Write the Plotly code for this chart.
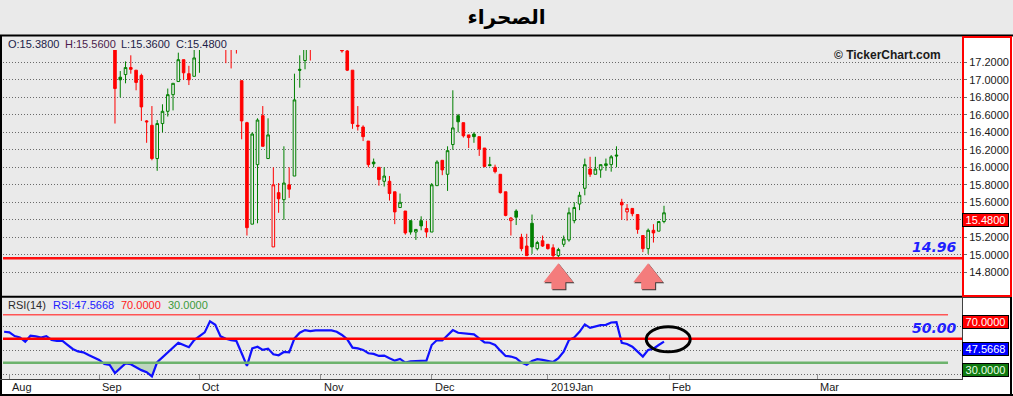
import plotly.graph_objects as go

# ---------------- data ----------------
opens = [17.86, 17.90, 17.88, 17.82, 17.80, 17.72, 17.86, 17.84, 17.80, 17.86,
         17.78, 17.76, 17.76, 17.68, 17.60, 17.56, 17.54, 17.48, 17.44, 17.40,
         17.38, 17.40, 17.03, 17.06, 17.14, 17.11, 17.05, 16.53, 16.48, 16.10,
         16.50, 16.64, 16.83, 16.98, 17.23, 17.07, 17.04, 17.40, 17.55, 17.66,
         17.90, 17.82, 17.55, 17.50, 17.45, 16.99, 16.51, 15.35, 16.03, 16.59,
         16.10, 15.09, 15.71, 15.63, 15.80, 15.90, 17.12, 17.22, 17.45, 17.36,
         17.42, 17.40, 17.44, 17.42, 17.45, 17.33, 17.11, 16.48, 16.46, 16.30,
         16.06, 16.00, 15.84, 15.84, 15.72, 15.54, 15.50, 15.39, 15.26, 15.39,
         15.30, 15.26, 15.79, 16.08, 15.92, 16.26, 16.59, 16.51, 16.37, 16.38,
         16.35, 16.22, 16.03, 16.00, 15.92, 15.72, 15.39, 15.50, 15.20, 15.10,
         15.36, 15.07, 15.16, 15.12, 15.08, 14.99, 15.12, 15.17, 15.39, 15.58,
         15.76, 15.98, 15.92, 15.97, 16.02, 16.03, 16.14, 15.60, 15.49, 15.53,
         15.46, 15.22, 15.07, 15.28, 15.27, 15.38]
highs = [17.94, 17.96, 17.92, 17.88, 17.84, 17.90, 17.92, 17.88, 17.90, 17.88,
         17.82, 17.82, 17.78, 17.70, 17.64, 17.60, 17.56, 17.52, 17.48, 17.44,
         17.42, 17.42, 17.10, 17.21, 17.28, 17.11, 17.07, 16.54, 16.70, 16.54,
         16.72, 16.90, 16.96, 17.31, 17.23, 17.16, 17.38, 17.60, 17.70, 17.95,
         17.96, 17.84, 17.58, 17.54, 17.50, 16.99, 16.52, 16.40, 16.56, 16.70,
         16.56, 16.00, 15.82, 16.24, 16.00, 17.07, 17.28, 17.40, 17.50, 17.46,
         17.48, 17.47, 17.50, 17.45, 17.48, 17.35, 17.11, 16.70, 16.48, 16.30,
         16.10, 16.00, 16.00, 15.90, 15.72, 15.70, 15.50, 15.39, 15.29, 15.44,
         15.39, 15.82, 16.08, 16.08, 16.24, 16.88, 16.61, 16.51, 16.37, 16.40,
         16.35, 16.22, 16.12, 16.03, 15.92, 15.72, 15.43, 15.52, 15.24, 15.24,
         15.46, 15.16, 15.22, 15.12, 15.12, 15.08, 15.22, 15.54, 15.60, 15.72,
         16.10, 16.12, 16.12, 16.03, 16.10, 16.14, 16.24, 15.64, 15.58, 15.53,
         15.46, 15.22, 15.30, 15.35, 15.38, 15.56]
lows = [17.80, 17.84, 17.80, 17.76, 17.70, 17.72, 17.80, 17.78, 17.78, 17.76,
        17.72, 17.72, 17.66, 17.58, 17.54, 17.50, 17.46, 17.42, 17.38, 17.36,
        17.36, 16.50, 16.80, 16.96, 17.07, 16.88, 16.53, 16.28, 16.08, 15.96,
        16.40, 16.58, 16.65, 16.98, 17.00, 16.94, 17.04, 17.08, 17.50, 17.64,
        17.78, 17.50, 17.19, 17.13, 17.30, 16.32, 15.22, 15.35, 15.36, 16.24,
        16.10, 15.09, 15.48, 15.40, 15.65, 15.90, 16.91, 17.12, 17.22, 17.35,
        17.36, 17.36, 17.38, 17.36, 17.31, 17.10, 16.44, 16.42, 16.30, 16.00,
        16.00, 15.79, 15.78, 15.62, 15.35, 15.54, 15.23, 15.23, 15.17, 15.28,
        15.20, 15.26, 15.79, 15.91, 15.73, 16.20, 16.40, 16.34, 16.22, 16.28,
        16.13, 16.00, 16.01, 15.93, 15.70, 15.44, 15.22, 15.34, 15.04, 14.99,
        15.01, 15.05, 15.09, 15.06, 14.97, 14.97, 15.09, 15.15, 15.36, 15.51,
        15.68, 15.89, 15.92, 15.88, 15.96, 15.95, 16.00, 15.40, 15.39, 15.44,
        15.24, 15.03, 15.01, 15.14, 15.27, 15.36]
closes = [17.90, 17.88, 17.82, 17.80, 17.72, 17.86, 17.84, 17.80, 17.86, 17.78,
          17.76, 17.76, 17.68, 17.60, 17.56, 17.54, 17.48, 17.44, 17.40, 17.38,
          17.37, 16.90, 17.00, 17.14, 17.12, 16.97, 16.69, 16.52, 16.10, 16.50,
          16.64, 16.83, 16.96, 17.23, 17.08, 17.00, 17.25, 17.55, 17.66, 17.90,
          17.82, 17.55, 17.50, 17.45, 17.40, 16.53, 15.31, 16.38, 16.54, 16.24,
          16.37, 15.80, 15.64, 15.82, 15.75, 16.77, 17.11, 17.36, 17.35, 17.42,
          17.40, 17.44, 17.42, 17.38, 17.33, 17.11, 16.50, 16.47, 16.35, 16.03,
          16.04, 15.86, 15.90, 15.70, 15.49, 15.60, 15.25, 15.26, 15.29, 15.33,
          15.26, 15.80, 16.06, 15.97, 16.19, 16.45, 16.52, 16.36, 16.34, 16.35,
          16.21, 16.01, 16.02, 15.95, 15.71, 15.45, 15.42, 15.43, 15.07, 14.99,
          15.09, 15.14, 15.10, 15.07, 14.99, 15.06, 15.18, 15.48, 15.54, 15.68,
          16.03, 15.92, 15.98, 16.03, 16.04, 16.12, 16.13, 15.57, 15.53, 15.47,
          15.29, 15.07, 15.28, 15.25, 15.38, 15.48]
rsi = [55.8, 55.3, 52.2, 51.1, 47.5, 52.5, 52.0, 50.9, 52.2, 49.0,
       48.2, 48.4, 45.0, 41.5, 39.5, 38.7, 36.5, 34.2, 32.4, 29.0,
       28.2, 21.5, 25.2, 29.4, 28.8, 26.0, 23.9, 22.2, 18.7, 30.5,
       34.5, 39.3, 42.5, 46.7, 44.8, 43.0, 48.9, 52.5, 55.3, 64.5,
       61.6, 52.0, 50.0, 48.9, 48.1, 37.9, 27.4, 42.0, 43.4, 40.7,
       41.8, 37.1, 36.3, 39.0, 38.7, 50.3, 55.0, 57.2, 56.4, 56.9,
       56.9, 56.9, 56.9, 55.8, 53.1, 49.5, 42.6, 42.0, 40.7, 37.9,
       37.4, 35.7, 36.0, 33.8, 31.8, 33.2, 30.2, 31.3, 31.6, 32.1,
       31.8, 44.8, 48.9, 48.6, 53.1, 57.2, 55.0, 54.4, 54.2, 53.6,
       50.3, 47.0, 46.7, 44.8, 40.1, 35.7, 35.2, 33.8, 30.2, 28.3,
       31.6, 33.0, 32.4, 31.8, 30.7, 33.8, 39.3, 48.9, 51.1, 55.8,
       61.9, 59.1, 60.5, 61.3, 61.6, 63.5, 63.8, 46.7, 45.6, 43.4,
       39.3, 35.2, 40.7, 41.8, 44.8, 47.5668]
tick_pos = [1, 18, 37, 60, 81, 103, 126, 154]
tick_text = ["Aug", "Sep", "Oct", "Nov", "Dec", "2019Jan", "Feb", "Mar"]
price_ticks = [14.8, 15.0, 15.2, 15.4, 15.6, 15.8, 16.0, 16.2, 16.4, 16.6, 16.8, 17.0, 17.2]
rsi_grid = [20, 40, 60]
support_level = 14.96
rsi_mid, rsi_upper, rsi_lower = 50.0, 70.0, 30.0
arrow_at = [105, 122]
ellipse_at = (125.8, 49.5)
title_text = "الصحراء"

# ---------------- layout geometry ----------------
W, H = 1013, 396
ML, MR, MT, MB = 3, 51, 36, 17
PW, PH = W - ML - MR, H - MT - MB


def fx(px):
    return (px - ML) / PW


def fy(py):
    return (H - MB - py) / PH


X_RANGE = [-0.21, 181.45]
PRICE_RANGE = [14.529, 17.3406]
RSI_RANGE = [16.53, 84.3]
BG = "#eaeaea"
GREEN = "#008000"
RED = "#ff0000"
FONT = "Liberation Sans"
GRID_DASH = "1px,2px"

fig = go.Figure()

# candles: colour by close vs previous close, hollow when close >= open
groups = {}
for i in range(len(closes)):
    prev = closes[i - 1] if i > 0 else opens[i]
    key = (closes[i] >= prev, closes[i] >= opens[i])
    groups.setdefault(key, []).append(i)

for (up, hollow), ids in groups.items():
    col = GREEN if up else RED
    style = dict(line=dict(color=col, width=1), fillcolor=BG if hollow else col)
    fig.add_trace(go.Candlestick(
        x=ids,
        open=[opens[i] for i in ids], high=[highs[i] for i in ids],
        low=[lows[i] for i in ids], close=[closes[i] for i in ids],
        increasing=style, decreasing=style, whiskerwidth=0,
        xaxis="x", yaxis="y", hoverinfo="skip", showlegend=False))

# RSI shading below the lower level
xs = list(range(len(rsi)))
fig.add_trace(go.Scatter(x=xs, y=[rsi_lower] * len(rsi), mode="lines",
                         line=dict(width=0), xaxis="x", yaxis="y2",
                         hoverinfo="skip", showlegend=False))
fig.add_trace(go.Scatter(x=xs, y=[min(v, rsi_lower) for v in rsi], mode="lines",
                         line=dict(width=0), fill="tonexty",
                         fillcolor="rgba(110,175,110,0.35)", xaxis="x", yaxis="y2",
                         hoverinfo="skip", showlegend=False))
fig.add_trace(go.Scatter(x=xs, y=rsi, mode="lines",
                         line=dict(color="#1010ff", width=2.2), xaxis="x", yaxis="y2",
                         hoverinfo="skip", showlegend=False))

shapes = []
# backgrounds outside plot areas
shapes.append(dict(type="rect", xref="paper", yref="paper", x0=fx(962), x1=fx(W),
                   y0=fy(H), y1=fy(36), fillcolor="white", line=dict(width=0), layer="below"))
shapes.append(dict(type="rect", xref="paper", yref="paper", x0=fx(0), x1=fx(962),
                   y0=fy(H), y1=fy(379), fillcolor="white", line=dict(width=0), layer="below"))
# level lines
shapes.append(dict(type="line", xref="x domain", yref="y", x0=0, x1=1,
                   y0=support_level, y1=support_level, line=dict(color="#ff1010", width=2.6)))
shapes.append(dict(type="line", xref="x", yref="y2", x0=X_RANGE[0], x1=178.8,
                   y0=rsi_upper, y1=rsi_upper, line=dict(color="#ff5555", width=1.5)))
shapes.append(dict(type="line", xref="x", yref="y2", x0=X_RANGE[0], x1=178.8,
                   y0=rsi_lower, y1=rsi_lower, line=dict(color="#6db36d", width=2.5)))
shapes.append(dict(type="line", xref="x domain", yref="y2", x0=0, x1=1,
                   y0=rsi_mid, y1=rsi_mid, line=dict(color="#ff0000", width=2.5)))

# arrows below support level
arrow_pts = [(0, -5), (15, -24), (7, -24), (7, -31), (-7, -31), (-7, -24), (-15, -24)]


def path_of(pts, dx=0, dy=0):
    return "M " + " L ".join(f"{x + dx} {y + dy}" for x, y in pts) + " Z"


for a in arrow_at:
    shapes.append(dict(type="path", xref="x", yref="y", xsizemode="pixel", ysizemode="pixel",
                       xanchor=a, yanchor=support_level, path=path_of(arrow_pts, 1, -1),
                       fillcolor="#3a3a3a", line=dict(width=0)))
    shapes.append(dict(type="path", xref="x", yref="y", xsizemode="pixel", ysizemode="pixel",
                       xanchor=a, yanchor=support_level, path=path_of(arrow_pts),
                       fillcolor="#f47c7c", line=dict(width=0)))

# ellipse on RSI
shapes.append(dict(type="circle", xref="x", yref="y2", xsizemode="pixel", ysizemode="pixel",
                   xanchor=ellipse_at[0], yanchor=ellipse_at[1], x0=-22, x1=22, y0=-12.5, y1=12.5,
                   line=dict(color="black", width=3)))


# frame lines
def pline(x0, y0, x1, y1, color="black", width=2):
    shapes.append(dict(type="line", xref="paper", yref="paper", x0=fx(x0), x1=fx(x1),
                       y0=fy(y0), y1=fy(y1), line=dict(color=color, width=width)))


pline(0, 35.5, W, 35.5)
pline(1, 35, 1, H)
pline(0, 296.8, 1011, 296.8)
pline(0, 379.5, 962, 379.5, "#404040", 1)
pline(962.5, 297, 962.5, 380, "#404040", 1)
pline(1011, 296, 1011, H)
pline(0, 395, W, 395)
shapes.append(dict(type="rect", xref="paper", yref="paper", x0=fx(963), x1=fx(1011),
                   y0=fy(296), y1=fy(37), line=dict(color="#ff0000", width=2)))

ann = []


def text_at(px, py, txt, color="#1a1a1a", size=11, anchor="left", **kw):
    ann.append(dict(xref="paper", yref="paper", x=fx(px), y=fy(py), text=txt,
                    showarrow=False, xanchor=anchor, yanchor="middle",
                    font=dict(family=FONT, size=size, color=color, **kw)))


# OHLC header
last = len(closes) - 1
text_at(6, 43.7, f"O:{opens[last]:.4f}", "#1c1c48")
text_at(63, 43.7, f"H:{highs[last]:.4f}", "#4c1c4c")
text_at(119, 43.7, f"L:{lows[last]:.4f}", "#1c1c48")
text_at(174, 43.7, f"C:{closes[last]:.4f}", "#1c1c48")
# RSI header
text_at(6, 305, "RSI(14)", "#2a2a2a")
text_at(51, 305, f"RSI:{rsi[-1]:.4f}", "#2020ff")
text_at(119, 305, f"{rsi_upper:.4f}", "#ff2020")
text_at(166, 305, f"{rsi_lower:.4f}", "#3a9a3a")
# watermark
text_at(943, 55, "© TickerChart.com", "#1a1a1a", 12, "right", weight="bold")

# level labels
for val, yref in ((support_level, "y"), (rsi_mid, "y2")):
    ann.append(dict(xref="paper", yref=yref, x=fx(959), y=val, text=f"{val:.2f}",
                    showarrow=False, xanchor="right", yanchor="bottom", yshift=1,
                    font=dict(family="DejaVu Sans", size=14, color="#1f1fff",
                              weight="bold", style="italic")))

# value boxes on right axis
for val, yref, bg, fg in ((closes[last], "y", "#ff0000", "white"),
                          (rsi_upper, "y2", "#ff0000", "white"),
                          (rsi[-1], "y2", "#0000ff", "white"),
                          (rsi_lower, "y2", "#107a10", "#e8ffe8")):
    ann.append(dict(xref="paper", yref=yref, x=fx(962), y=val, text=f"{val:.4f}",
                    showarrow=False, xanchor="left", yanchor="top", width=43, height=10,
                    bgcolor=bg, bordercolor="black", borderwidth=1, borderpad=1,
                    font=dict(family=FONT, size=11, color=fg)))

# x-axis labels
for p, t in zip(tick_pos, tick_text):
    ann.append(dict(xref="x", yref="paper", x=p, y=fy(387), text=t, showarrow=False,
                    xanchor="left", yanchor="middle", xshift=1,
                    font=dict(family=FONT, size=11, color="#1a1a1a")))

# price labels hidden where the last-price box covers them
price_text = ["" if closes[last] - 0.2 < v < closes[last] + 0.07 else f"{v:.4f}"
              for v in price_ticks]

fig.update_layout(
    width=W, height=H,
    margin=dict(l=ML, r=MR, t=MT, b=MB, pad=0),
    paper_bgcolor=BG, plot_bgcolor=BG,
    showlegend=False,
    title=dict(text=title_text, x=0.5, xanchor="center", xref="container",
               y=1 - 17 / H, yanchor="middle", yref="container",
               font=dict(family="DejaVu Sans", size=20, color="black", weight="bold")),
    xaxis=dict(domain=[0, 1], range=X_RANGE, anchor="y2", tickvals=tick_pos,
               ticks="inside", ticklen=5, tickcolor="#909090", showticklabels=False,
               showgrid=False, zeroline=False, showline=False,
               rangeslider=dict(visible=False), fixedrange=True),
    yaxis=dict(domain=[fy(296), fy(50)], range=PRICE_RANGE, side="right", anchor="x",
               tickvals=price_ticks, ticktext=price_text, ticks="outside", ticklen=4,
               tickcolor="#707070", tickfont=dict(family=FONT, size=11, color="#1a1a1a"),
               showgrid=True, gridcolor="#6a6a6a", griddash=GRID_DASH, gridwidth=1,
               zeroline=False, showline=False, fixedrange=True),
    yaxis2=dict(domain=[0, fy(297.5)], range=RSI_RANGE, side="right", anchor="x",
                tickvals=rsi_grid, ticks="outside", ticklen=4, tickcolor="#707070",
                showticklabels=False, showgrid=True, gridcolor="#6a6a6a", griddash=GRID_DASH,
                gridwidth=1, zeroline=False, showline=False, fixedrange=True),
    shapes=shapes,
    annotations=ann,
)

fig.write_html("out.html")
